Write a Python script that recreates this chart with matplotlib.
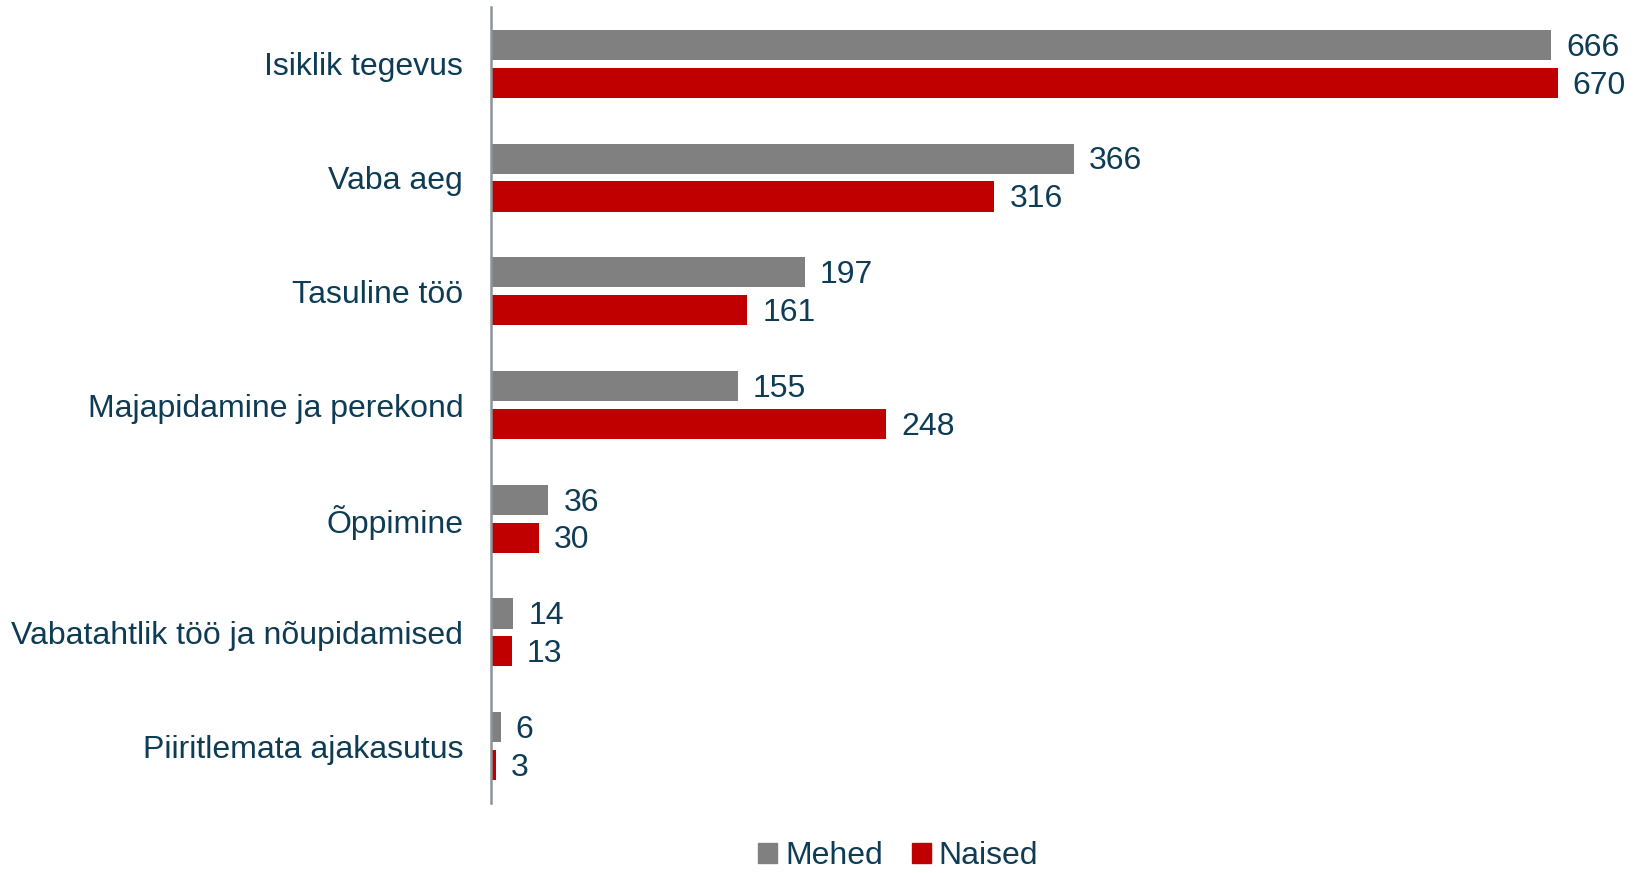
import matplotlib
matplotlib.use("Agg")
import matplotlib.pyplot as plt
import numpy as np
from matplotlib.patches import Patch

categories = ["Isiklik tegevus", "Vaba aeg", "Tasuline töö", "Majapidamine ja perekond",
              "Õppimine", "Vabatahtlik töö ja nõupidamised", "Piiritlemata ajakasutus"]
mehed = [666, 366, 197, 155, 36, 14, 6]
naised = [670, 316, 161, 248, 30, 13, 3]
series_names = ["Mehed", "Naised"]

gray = "#808080"
red = "#C00000"
txt = "#0E3C55"
plt.rcParams['font.family'] = ['Liberation Sans', 'DejaVu Sans']

fig = plt.figure(figsize=(16.34, 8.73), dpi=100)
ax = fig.add_axes([491/1634, 70/873, 1143/1634, 796/873])

y = np.arange(len(categories))
off = 0.167
h = 0.265
b1 = ax.barh(y - off, mehed, height=h, color=gray)
b2 = ax.barh(y + off, naised, height=h, color=red)

for bars, vals in ((b1, mehed), (b2, naised)):
    for bar, v in zip(bars, vals):
        ax.annotate(str(v), (bar.get_width(), bar.get_y() + bar.get_height()/2),
                    xytext=(11, -2), textcoords="offset points", va="center", ha="left",
                    fontsize=23, color=txt)

ax.set_xlim(0, 718)
ax.set_ylim(len(categories) - 0.5, -0.5)
ax.set_yticks(y)
ax.set_yticklabels(categories, fontsize=23, color=txt)
ax.tick_params(axis="y", length=0, pad=20)
ax.set_xticks([])
for s in ["top", "right", "bottom"]:
    ax.spines[s].set_visible(False)
ax.spines["left"].set_color("#8C9399")
ax.spines["left"].set_linewidth(1.8)

handles = [Patch(color=gray), Patch(color=red)]
leg = fig.legend(handles, series_names, loc="center", bbox_to_anchor=(898/1634, 1 - 856/873),
                 ncol=2, frameon=False, fontsize=23, handlelength=0.6, handleheight=0.6,
                 handletextpad=0.25, columnspacing=0.9, borderpad=0.1)
for t in leg.get_texts():
    t.set_color(txt)

fig.savefig("out.png", dpi=100)
